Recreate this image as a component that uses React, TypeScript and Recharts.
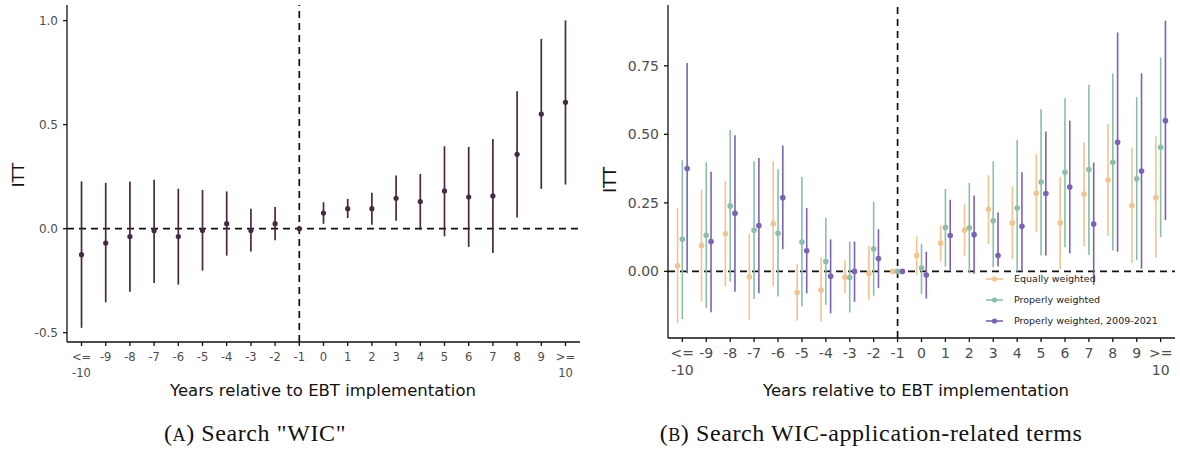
import React from 'react';
import {
  ComposedChart, Scatter, ErrorBar, XAxis, YAxis, ReferenceLine,
} from 'recharts';

// tick labels for the event-time categories (index 0..20)
const TICK_LABELS = [
  '<=\n-10', '-9', '-8', '-7', '-6', '-5', '-4', '-3', '-2', '-1',
  '0', '1', '2', '3', '4', '5', '6', '7', '8', '9', '>=\n10',
];

// Panel A: search "WIC"
const wicEst = [-0.125, -0.069, -0.038, -0.01, -0.038, -0.009, 0.024, -0.009, 0.024, 0,
  0.075, 0.096, 0.096, 0.146, 0.13, 0.181, 0.152, 0.157, 0.357, 0.551, 0.607];
const wicLo = [-0.477, -0.354, -0.303, -0.261, -0.269, -0.202, -0.13, -0.11, -0.056, 0,
  0.023, 0.051, 0.019, 0.038, -0.005, -0.037, -0.088, -0.117, 0.054, 0.191, 0.212];
const wicHi = [0.227, 0.22, 0.227, 0.235, 0.192, 0.186, 0.179, 0.095, 0.104, 0,
  0.127, 0.143, 0.172, 0.255, 0.263, 0.396, 0.393, 0.431, 0.66, 0.912, 1.001];

// Panel B: WIC-application-related terms
const eqEst = [0.02, 0.094, 0.137, -0.02, 0.174, -0.077, -0.068, -0.021, -0.007, 0,
  0.058, 0.103, 0.15, 0.227, 0.177, 0.285, 0.177, 0.282, 0.333, 0.24, 0.269];
const eqLo = [-0.189, -0.11, -0.055, -0.177, -0.053, -0.18, -0.183, -0.08, -0.104, 0,
  -0.013, 0.036, 0.057, 0.1, 0.044, 0.143, 0.008, 0.091, 0.13, 0.03, 0.05];
const eqHi = [0.231, 0.299, 0.329, 0.136, 0.402, 0.026, 0.05, 0.04, 0.094, 0,
  0.127, 0.167, 0.245, 0.351, 0.31, 0.429, 0.345, 0.47, 0.537, 0.452, 0.492];

const pwEst = [0.117, 0.132, 0.239, 0.15, 0.139, 0.107, 0.036, -0.022, 0.082, 0,
  0.012, 0.16, 0.159, 0.185, 0.231, 0.326, 0.362, 0.372, 0.398, 0.338, 0.453];
const pwLo = [-0.174, -0.134, -0.037, -0.101, -0.092, -0.128, -0.122, -0.15, -0.089, 0,
  -0.082, 0.018, -0.007, 0.015, 0, 0.058, 0.088, 0.06, 0.076, 0.041, 0.125];
const pwHi = [0.406, 0.398, 0.516, 0.402, 0.373, 0.345, 0.195, 0.109, 0.255, 0,
  0.1, 0.301, 0.323, 0.402, 0.479, 0.592, 0.632, 0.681, 0.722, 0.636, 0.78];

const pw09Est = [0.375, 0.109, 0.212, 0.167, 0.269, 0.075, -0.018, 0, 0.047, 0,
  -0.013, 0.131, 0.134, 0.058, 0.165, 0.284, 0.308, 0.173, 0.471, 0.366, 0.55];
const pw09Lo = [-0.007, -0.149, -0.074, -0.08, 0.081, -0.08, -0.153, -0.111, -0.061, 0,
  -0.099, 0.003, -0.009, 0.018, 0, 0.058, 0.066, -0.049, 0.072, 0.01, 0.187];
const pw09Hi = [0.76, 0.364, 0.497, 0.414, 0.459, 0.231, 0.117, 0.109, 0.154, 0,
  0.072, 0.261, 0.277, 0.215, 0.362, 0.51, 0.55, 0.397, 0.872, 0.723, 0.915];

const SERIES_B = [
  { name: 'Equally weighted', color: '#f2c48f', est: eqEst, lo: eqLo, hi: eqHi, dodge: -0.2 },
  { name: 'Properly weighted', color: '#8bbfa9', est: pwEst, lo: pwLo, hi: pwHi, dodge: 0 },
  { name: 'Properly weighted, 2009-2021', color: '#7a62b7', est: pw09Est, lo: pw09Lo, hi: pw09Hi, dodge: 0.2 },
];

const toPoints = (est: number[], lo: number[], hi: number[], dodge = 0) =>
  est.map((v, i) => ({ x: i + dodge, y: v, err: [v - lo[i], hi[i] - v] }));

const FONT = '"DejaVu Sans", sans-serif';
const IDX = TICK_LABELS.map((_, i) => i);
const DASH = '7 5';

const XTick = (props: any) => {
  const { x, y, payload, fontSize, lh } = props;
  const lines = TICK_LABELS[payload.value].split('\n');
  return (
    <text x={x} y={y} textAnchor="middle" fill="#4d4d4d" fontSize={fontSize} fontFamily={FONT}>
      {lines.map((l, i) => (
        <tspan key={i} x={x} dy={i === 0 ? '0.71em' : lh}>{l}</tspan>
      ))}
    </text>
  );
};

const Dot = (r: number, color: string) => (p: any) => (
  <circle cx={p.cx} cy={p.cy} r={r} fill={color} />
);

// legend drawn inside panel B, bottom right
const LegendB = () => (
  <div style={{ position: 'absolute', left: 985, top: 268, fontFamily: FONT, fontSize: 9.5, color: '#222' }}>
    {SERIES_B.map((s) => (
      <div key={s.name} style={{ display: 'flex', alignItems: 'center', height: 21, whiteSpace: 'nowrap' }}>
        <svg width={29} height={10}>
          <line x1={1} x2={18} y1={5} y2={5} stroke={s.color} strokeWidth={1.6} />
          <circle cx={9.5} cy={5} r={2.6} fill={s.color} />
        </svg>
        <span>{s.name}</span>
      </div>
    ))}
  </div>
);

const title: React.CSSProperties = {
  position: 'absolute', fontFamily: FONT, color: '#111', whiteSpace: 'nowrap',
};
const caption: React.CSSProperties = {
  position: 'absolute', fontFamily: '"Liberation Serif", serif', fontSize: 24, letterSpacing: 0.6,
  color: '#111', whiteSpace: 'nowrap', transform: 'translateX(-50%)', top: 420,
};

export default function App() {
  const wicData = toPoints(wicEst, wicLo, wicHi);
  return (
    <div style={{ position: 'absolute', left: 0, top: 0, width: 1180, height: 457, background: '#fff' }}>
      {/* Panel A */}
      <div style={{ position: 'absolute', left: 0, top: 0 }}>
        <ComposedChart width={590} height={400} margin={{ top: 5, right: 10, left: 0, bottom: 0 }}>
          <XAxis
            type="number" dataKey="x" domain={[-0.6, 20.6]} ticks={IDX} interval={0}
            allowDataOverflow height={58} tickSize={4} tickMargin={7}
            stroke="#111" strokeWidth={1.3}
            tick={<XTick fontSize={11.5} lh={15.5} />}
          />
          <YAxis
            type="number" domain={[-0.545, 1.075]} ticks={[-0.5, 0, 0.5, 1]} allowDataOverflow
            width={67} tickSize={4} tickMargin={5} stroke="#111" strokeWidth={1.3}
            tickFormatter={(v: number) => v.toFixed(1)}
            tick={{ fill: '#4d4d4d', fontSize: 12, fontFamily: FONT }}
          />
          <ReferenceLine y={0} stroke="#111" strokeWidth={1.7} strokeDasharray={DASH} />
          <ReferenceLine x={9} stroke="#111" strokeWidth={1.7} strokeDasharray={DASH} />
          <Scatter data={wicData} dataKey="y" isAnimationActive={false} shape={Dot(2.6, '#472a42')}>
            <ErrorBar dataKey="err" direction="y" width={0} stroke="#472a42" strokeWidth={1.7} />
          </Scatter>
        </ComposedChart>
      </div>
      <div style={{ ...title, fontSize: 16.5, left: 18, top: 175, transform: 'translate(-50%, -50%) rotate(-90deg)' }}>ITT</div>
      <div style={{ ...title, fontSize: 16.5, left: 323, top: 381, transform: 'translateX(-50%)' }}>Years relative to EBT implementation</div>

      {/* Panel B */}
      <div style={{ position: 'absolute', left: 600, top: 0 }}>
        <ComposedChart width={585} height={400} margin={{ top: 5, right: 10, left: 0, bottom: 0 }}>
          <XAxis
            type="number" dataKey="x" domain={[-0.6, 20.6]} ticks={IDX} interval={0}
            allowDataOverflow height={62} tickSize={4} tickMargin={6}
            stroke="#111" strokeWidth={1.3}
            tick={<XTick fontSize={14} lh={17.5} />}
          />
          <YAxis
            type="number" domain={[-0.243, 0.972]} ticks={[0, 0.25, 0.5, 0.75]} allowDataOverflow
            width={68} tickSize={4} tickMargin={5} stroke="#111" strokeWidth={1.3}
            tickFormatter={(v: number) => v.toFixed(2)}
            tick={{ fill: '#4d4d4d', fontSize: 14, fontFamily: FONT }}
          />
          <ReferenceLine y={0} stroke="#111" strokeWidth={1.7} strokeDasharray={DASH} />
          <ReferenceLine x={9} stroke="#111" strokeWidth={1.7} strokeDasharray={DASH} />
          {SERIES_B.map((s) => (
            <Scatter
              key={s.name} name={s.name} data={toPoints(s.est, s.lo, s.hi, s.dodge)} dataKey="y"
              isAnimationActive={false} shape={Dot(2.8, s.color)}
            >
              <ErrorBar dataKey="err" direction="y" width={0} stroke={s.color} strokeWidth={1.6} />
            </Scatter>
          ))}
        </ComposedChart>
      </div>
      <LegendB />
      <div style={{ ...title, fontSize: 17.5, left: 610, top: 180, transform: 'translate(-50%, -50%) rotate(-90deg)' }}>ITT</div>
      <div style={{ ...title, fontSize: 16.5, left: 916, top: 381, transform: 'translateX(-50%)' }}>Years relative to EBT implementation</div>

      {/* captions */}
      <div style={{ ...caption, left: 255 }}>(<span style={{ fontSize: 18 }}>A</span>) Search "WIC"</div>
      <div style={{ ...caption, left: 871 }}>(<span style={{ fontSize: 18 }}>B</span>) Search WIC-application-related terms</div>
    </div>
  );
}
